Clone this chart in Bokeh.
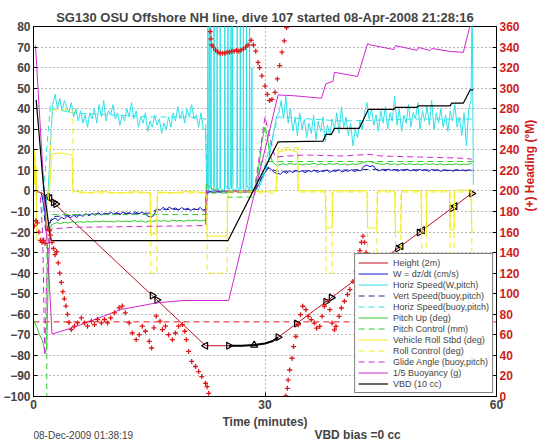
import math
from bokeh.plotting import figure
from bokeh.layouts import column
from bokeh.models import Range1d, LinearAxis, FixedTicker, Label, Legend, LegendItem, Grid
from bokeh.embed import file_html
from bokeh.resources import INLINE

# ---------------- texts / ticks ----------------
title_text = "SG130 OSU Offshore NH line, dive 107 started 08-Apr-2008 21:28:16"
xlabel_text = "Time (minutes)"
right_label_text = "(+) Heading (\u00b0M)"
date_text = "08-Dec-2009 01:38:19"
vbd_bias_text = "VBD bias =0 cc"
x_ticks = [0, 30, 60]
left_ticks = [-100, -90, -80, -70, -60, -50, -40, -30, -20, -10, 0, 10, 20, 30, 40, 50, 60, 70, 80]
right_ticks = [0, 20, 40, 60, 80, 100, 120, 140, 160, 180, 200, 220, 240, 260, 280, 300, 320, 340, 360]

# ---------------- data (time in minutes) ----------------
# Height (2 m)
height_t = [0.0, 1.0, 2.3, 22.3, 25.3, 27.0, 28.6, 30.0, 31.0, 31.7, 57.0]
height_v = [0.0, -0.8, -4.7, -75.3, -75.3, -75.3, -75.0, -74.2, -73.0, -71.2, -0.6]
height_bold_t = [25.3, 27.0, 28.6, 30.0, 31.0, 31.7]
height_bold_v = [-75.3, -75.3, -75.0, -74.2, -73.0, -71.2]
tri_right_t = [2.6, 2.9, 15.4, 16.0, 25.3, 31.7, 34.1, 37.9, 38.6, 47.2, 50.0, 54.2, 56.8]
tri_right_v = [-5.5, -6.4, -50.9, -53.1, -75.3, -71.2, -64.5, -53.9, -51.9, -28.0, -20.2, -8.5, -1.2]
tri_left_t = [1.8, 2.1, 22.3, 47.6, 50.4, 54.6]
tri_left_v = [-2.8, -3.5, -75.3, -26.9, -19.1, -7.4]
tri_up_t = [28.6]
tri_up_v = [-75.0]

# W = dz/dt (cm/s)
w_start_t = [1.0, 1.4, 1.7, 2.0]
w_start_v = [-1.0, -8.0, -19.0, -16.0]
w_desc = [-14.0, -13.2, -14.4, -12.8, -13.6, -12.2, -13.0, -11.8, -12.9, -11.5,
          -12.4, -11.0, -12.1, -10.9, -11.8, -10.6, -11.7, -10.8, -11.5, -10.3,
          -11.3, -10.5, -11.6, -10.2, -11.0, -10.6, -11.4, -10.1, -11.2, -10.4,
          -11.0, -12.2, -12.8, -11.9, -8.6, -9.4, -8.0, -9.1, -7.9, -8.8,
          -8.3, -9.3, -8.1, -9.0, -8.4, -9.5, -8.6, -9.2, -8.0, -9.6]
w_apo = [-0.6, -0.2, -0.8, -0.3, -0.5, -0.1, -0.7, -0.3, -0.6, -0.2, -0.5, -0.4, -0.6, -0.2, -0.5, -0.3]
w_rise_t = [29.2, 29.6, 30.0, 30.4, 30.8, 31.2, 31.6]
w_rise_v = [3.0, 6.8, 9.0, 11.6, 10.5, 9.0, 8.5]
w_climb = [8.2, 9.4, 8.6, 9.8, 8.9, 10.1, 9.2, 9.9, 8.8, 10.0,
           9.3, 10.2, 9.0, 9.7, 9.4, 10.3, 9.1, 9.8, 9.5, 10.4,
           9.2, 9.9, 9.6, 10.3, 9.4, 10.0, 9.8, 12.0, 12.6, 11.8, 12.3,
           10.4, 9.8, 10.5, 9.7, 10.6, 10.0, 10.4, 9.6, 10.3,
           9.9, 10.6, 9.8, 10.2, 9.7, 10.5, 10.0, 10.3, 9.6, 10.4,
           9.9, 10.2, 9.5, 10.3, 9.8, 10.1, 9.6, 10.4, 9.9, 10.2,
           9.7, 10.3, 10.0]

# Horiz Speed (W, pitch)
hs_start_t = [1.5, 1.9, 2.3, 2.5]
hs_start_v = [-8.0, 0.0, 30.0, 42.0]
hs_desc = [47, 40, 45, 39, 44, 41, 38, 43, 36, 40,
           34, 39, 33, 37, 31, 38, 35, 40, 33, 42,
           36, 44, 34, 39, 37, 42, 35, 38, 32, 37,
           34, 40, 36, 43, 35, 39, 31, 36, 33, 38,
           29, 34, 31, 37, 32, 35, 28, 33, 30, 36,
           31, 38, 34, 41, 35, 39, 33, 40, 36, 42,
           35, 37, 31, 38, 30]
hs_apo_t = [22.3, 22.45, 22.55, 22.6, 22.65, 22.75, 22.8, 22.85, 22.95, 23.0, 23.05,
            23.35, 23.4, 23.45, 23.75, 23.8, 23.85, 24.15, 24.2, 24.25, 24.75, 24.8, 24.85,
            25.15, 25.2, 25.25, 25.55, 25.6, 25.65, 25.75, 25.8, 25.85, 26.35, 26.4, 26.45,
            26.75, 26.8, 26.85, 27.15, 27.2, 27.25, 27.55, 27.6, 27.65, 27.95, 28.0, 28.05,
            28.25, 28.3, 28.35, 28.6,
            28.8, 29.2, 29.6, 30.0, 30.4, 30.8, 31.2, 31.5]
hs_apo_v = [30, 1, 2, 95, 0, 1, 95, 24, 2, 95, 1,
            0, 95, 2, 1, 95, 0, 2, 95, 1, 0, 95, 3,
            1, 95, 0, 2, 95, 1, 10, 95, 0, 1, 95, 2,
            0, 95, 1, 2, 95, 0, 1, 95, 3, 0, 95, 2,
            1, 60, 0, 0.5,
            0.5, 1, 5, 9, 14, 22, 30, 36]
hs_climb = [38, 44, 35, 46, 33, 40, 29, 36, 27, 38,
            30, 35, 26, 33, 28, 37, 25, 34, 29, 36,
            24, 32, 27, 35, 30, 38, 28, 41, 31, 36,
            27, 33, 22, 30, 26, 34, 30, 38, 43, 35,
            40, 32, 37, 29, 39, 33, 41, 30, 38, 34,
            46, 32, 40, 29, 37, 33, 42, 31, 38, 35,
            43, 30, 39, 34, 41, 32, 44, 30, 38, 33,
            40, 31, 37, 29, 39, 34, 42, 31, 36, 27,
            38, 22, 40, 44]
hs_end_t = [56.85, 57.0]
hs_end_v = [95, 3]

# Vert Speed (buoy, pitch)
vsb_t = [1.2, 1.6, 2.0, 2.4, 8.0, 15.0, 16.0, 22.3, 22.4, 28.6, 29.5, 30.4, 31.7, 44.0, 57.0]
vsb_v = [-2.0, -21.0, -17.0, -12.5, -11.2, -10.8, -9.0, -9.0, -0.5, -0.5, 6.0, 11.0, 9.5, 10.5, 10.0]

# Horiz Speed (buoy, pitch)
hsb_t = [1.2, 1.7, 2.2, 2.6, 5.0, 10.0, 15.0, 20.0, 22.3, 22.5, 28.5, 29.5, 30.5, 31.7, 40.0, 50.0, 56.8]
hsb_v = [-10.0, 20.0, 42.0, 40.0, 38.0, 37.0, 36.0, 36.0, 35.0, 0.0, 0.0, 5.0, 20.0, 36.0, 34.0, 35.0, 35.0]

# Pitch Up (deg)
pitch_start_t = [0.0, 0.4, 0.8, 1.2, 1.5, 1.7, 1.9, 2.1, 2.3]
pitch_start_v = [-63.0, -66.0, -70.0, -73.0, -79.0, -77.0, -45.0, -22.0, -16.5]
pitch_desc = [-16.2, -15.4, -15.9, -15.2, -15.6, -15.0, -15.4, -14.9, -15.3, -14.8,
              -15.2, -14.7, -15.1, -14.6, -15.0, -14.8, -15.1, -14.5, -14.9, -14.6,
              -15.0, -14.4, -14.9, -14.5, -15.2, -14.6, -14.8, -14.3, -14.7, -14.4,
              -14.9, -14.2, -14.6, -14.3, -14.8, -14.2, -14.5, -14.1, -14.6, -14.3]
pitch_mid_t = [22.3, 22.4, 23.0, 24.0, 25.0, 26.0, 27.0, 28.0, 28.7, 29.2, 29.6, 30.0, 30.3, 30.6, 31.0, 31.5]
pitch_mid_v = [-14.5, 3.5, 1.2, 0.3, -0.2, 0.2, -0.3, 0.1, 1.0, 12.0, 24.0, 31.0, 27.0, 18.0, 14.0, 12.5]
pitch_climb = [12.6, 13.2, 12.8, 13.4, 12.9, 13.3, 12.7, 13.1, 12.9, 13.5,
               12.8, 13.2, 12.7, 13.3, 12.9, 13.4, 12.8, 13.2, 12.6, 13.1,
               12.9, 13.3, 13.9, 14.4, 14.1, 13.6, 13.2, 12.9, 13.4, 12.8,
               13.2, 12.7, 13.3, 12.9, 13.2, 12.8, 13.1, 12.7, 13.3, 12.9,
               13.2, 12.8, 13.1, 12.7, 13.0, 12.8, 13.2, 12.7, 13.1, 12.9, 13.4]

# Pitch Control (mm)
pc_t = [1.7, 1.75, 22.5, 22.5, 25.2, 25.2, 28.6, 29.5, 57.0]
pc_v = [-150.0, -11.5, -11.5, -1.0, -1.0, -3.0, -3.0, 14.3, 14.3]

# Vehicle Roll Stbd (deg)
roll_t = [0.0, 0.1, 0.15, 0.2, 0.3, 0.35, 0.45, 1.6, 1.8, 2.1, 2.4, 3.5, 5.0, 5.1, 7.0, 9.0, 11.0, 13.0,
          15.1, 15.2, 16.0, 16.1, 18.0, 20.0, 22.4, 22.5, 25.1, 25.2, 28.0, 31.4, 31.7, 33.0, 34.2, 34.3,
          36.0, 37.8, 37.9, 38.7, 38.8, 41.0, 43.2, 43.3, 44.5, 44.6, 46.8, 46.9, 47.6, 47.7, 50.2, 50.3,
          50.9, 51.0, 53.9, 54.0, 54.5, 54.6, 56.7, 56.8, 57.0]
roll_v = [15, 20, 3, 17, -2, 12, -24, -24, -8, 2, 18, 18.5, 17.5, 0, -0.8, -0.3, -1.0, -0.4,
          -0.8, -21, -21, -0.5, -0.9, -0.3, -0.8, -22, -22, 0, -0.3, 0, 19, 20, 19, 0.3,
          0, 0.3, -18, -18, 0.2, 0, 0.2, -18, -18, 0.2, 0, -20, -20, 0.3, 0, -20,
          -20, 0.2, 0, -19, -19, 0.3, 0.5, -20, -20]

# Roll Control (deg)
rc_t = [2.0, 2.4, 5.1, 5.15, 15.2, 15.2, 16.0, 16.0, 22.5, 22.5, 25.1, 25.1, 31.5, 31.7, 34.3, 34.3,
        37.9, 37.9, 38.7, 38.7, 43.3, 43.3, 44.5, 44.5, 46.9, 46.9, 47.6, 47.6, 50.3, 50.3, 50.9, 50.9,
        54.0, 54.0, 54.5, 54.5, 56.8, 56.8, 57.0]
rc_v = [0, 39.4, 39.4, -1, -1, -40, -40, -1, -1, -40, -40, -1, -1, 21, 21, -0.5,
        -0.5, -40, -40, -0.5, -0.5, -40, -40, -0.5, -0.5, -40, -40, -0.5, -0.5, -40, -40, -0.5,
        -0.5, -40, -40, -0.5, -0.5, -40, -40]

# Glide Angle (buoy, pitch)
glide_t = [0.9, 1.2, 1.45, 1.7, 2.0, 2.4, 5.0, 10.0, 15.0, 20.0, 22.3, 22.4, 28.6, 29.2, 30.0, 30.5, 31.3,
           35.0, 40.0, 43.5, 45.0, 50.0, 55.0, 56.8]
glide_v = [-3, -22, -80, -45, -22, -18.5, -17.7, -17.5, -17.2, -17.0, -16.8, 0, 0, 15, 36, 28, 16.5,
           17.5, 17.0, 17.8, 17.0, 16.5, 16.0, 15.5]

# 1/5 Buoyancy (g)
buoy_t = [0.26, 1.9, 2.4, 5.3, 11.3, 16.0, 19.5, 25.3, 31.7, 33.8, 37.3, 37.9, 38.8, 39.0, 42.0, 43.3,
          43.7, 46.7, 46.9, 49.7, 49.9, 51.4, 51.6, 54.0, 55.7, 56.6]
buoy_v = [70.7, -34.0, -69.6, -66.3, -57.7, -54.4, -53.3, -53.3, 46.7, 46.3, 45.1, 52.1, 53.3, 57.7, 55.7, 71.7,
          71.0, 68.8, 70.7, 68.4, 69.8, 68.3, 69.3, 67.9, 67.4, 81.0]

# VBD (10 cc)
vbd_t = [0.35, 1.3, 2.1, 2.3, 25.2, 31.7, 37.5, 37.9, 38.6, 39.0, 42.2, 43.4, 46.7, 46.9, 49.7, 49.9,
         54.0, 54.2, 55.7, 56.6, 57.0]
vbd_v = [44.3, 2.0, -20.0, -24.2, -24.2, 23.9, 24.2, 27.5, 27.5, 30.4, 30.4, 39.7, 39.7, 40.7, 40.7, 41.4,
         41.4, 42.7, 42.7, 49.2, 49.2]

# Heading (deg M, right axis)
hdg_t = [0.1, 0.3, 0.5, 0.7, 0.9, 1.1, 1.3, 1.5, 2.0, 2.2, 2.4, 2.6, 2.8, 3.0, 3.2, 3.4, 3.6, 3.8, 4.0, 4.2,
         4.4, 4.6, 4.9, 5.3, 5.7, 6.2, 6.6, 7.0, 7.5, 7.9, 8.3, 8.8, 9.2, 9.6, 10.0, 10.5, 11.1, 11.5, 11.9,
         12.4, 12.8, 13.3, 13.7, 14.1, 14.5, 15.0, 15.3, 15.6, 15.9, 16.4, 16.7, 17.1, 17.5, 18.0, 18.4,
         18.8, 19.3, 19.6, 19.8, 20.1, 20.5, 21.0, 21.4, 21.8, 22.3, 22.5, 22.7,
         22.9, 23.0, 23.1, 23.3, 23.6, 23.9, 24.2, 24.5, 24.8, 25.1, 25.4, 25.7, 26.0, 26.3, 26.6, 26.9,
         27.2, 27.5, 27.8, 28.2, 28.5, 28.8, 29.1, 29.3, 29.6, 30.0, 30.3, 30.6, 30.9, 31.3, 31.6, 31.9,
         32.2, 32.5, 32.8,
         32.7, 32.9, 33.0, 33.2, 33.5, 33.7, 34.0, 34.3, 34.6, 34.9, 35.3, 35.6, 36.0, 36.4, 36.7, 37.1,
         37.4, 37.7, 38.1, 38.4, 38.7, 39.0, 39.2, 39.6, 39.9, 40.3, 40.7, 41.0, 41.4, 41.8, 42.1, 42.3,
         42.5, 42.7, 42.9, 43.1, 43.3]
hdg_v = [166, 171, 169, 160, 152, 150, 152, 149, 162, 157, 150, 144, 138, 141, 130, 120, 111, 102, 95, 88,
         80, 72, 65.1, 68.4, 71.6, 76.5, 71.6, 68.4, 73.3, 70, 74.9, 71.6, 74.9, 71.6, 76.5, 81.4, 86.3, 88,
         81.4, 71.6, 61.8, 55.3, 60.2, 68.4, 63.5, 53.7, 47.2, 66.8, 78.2, 73.3, 65.1, 68.4, 60.2, 55.3, 61.8,
         68.4, 70, 63.5, 55.3, 43.9, 34.1, 29.2, 24.3, 19.4, 12.9, 9.6, 3.1,
         355, 348, 342, 340, 337, 335, 334, 334, 334, 335, 335, 336, 336, 337, 336, 337,
         338, 340, 342, 346.6, 342, 336, 325, 320, 312, 302, 294, 288, 289, 296, 309, 322,
         335, 346, 359,
         0.5, 8, 16, 25.8, 37.2, 48.6, 58.4, 69.8, 79.6, 87.8, 84.5, 78, 74.7, 71.4, 66.5, 68.2,
         78, 87.8, 92.7, 84.5, 71.4, 64.9, 68.2, 78, 86.1, 92.7, 99.2, 104, 112, 122, 133, 142,
         150, 156, 150, 140, 128]
hdg_target = 72.6


def sampled(t0, dt, vals):
    return [t0 + i * dt for i in range(len(vals))]


# ---------------- main figure ----------------
FONT = "Liberation Sans"
RED = "#e01818"
AXRED = "#d01c1c"
xr = Range1d(0, 60)
p = figure(width=546, height=413, x_range=xr, y_range=Range1d(-100, 80),
           output_backend="svg", toolbar_location=None, title=title_text,
           x_axis_type=None, y_axis_type=None,
           min_border_left=32, min_border_right=48, min_border_top=26, min_border_bottom=17,
           background_fill_color="white", border_fill_color="white")
p.title.align = "center"
p.title.text_font = FONT
p.title.text_font_size = "13px"
p.title.text_font_style = "bold"
p.title.standoff = 4
p.extra_y_ranges = {"hdg": Range1d(0, 360)}
p.outline_line_color = "black"
p.outline_line_width = 1

xaxis = LinearAxis(ticker=FixedTicker(ticks=x_ticks))
yaxis = LinearAxis(ticker=FixedTicker(ticks=left_ticks))
raxis = LinearAxis(y_range_name="hdg", ticker=FixedTicker(ticks=right_ticks),
                   axis_label=right_label_text)
for ax in (xaxis, yaxis, raxis):
    ax.major_tick_in = 4
    ax.major_tick_out = 0
    ax.minor_tick_line_color = None
    ax.axis_line_color = "black"
    ax.major_tick_line_color = "black"
    ax.major_label_text_font = FONT
    ax.major_label_text_font_style = "bold"
    ax.major_label_text_font_size = "12px"
    ax.major_label_standoff = 3
    ax.axis_label_text_font = FONT
    ax.axis_label_text_font_style = "bold"
    ax.axis_label_text_font_size = "12px"
raxis.major_label_text_color = AXRED
raxis.axis_label_text_color = AXRED
raxis.axis_label_orientation = math.pi / 2
raxis.axis_label_standoff = 7
p.add_layout(xaxis, "below")
p.add_layout(yaxis, "left")
p.add_layout(raxis, "right")

for dim, tk in ((0, xaxis.ticker), (1, yaxis.ticker)):
    p.add_layout(Grid(dimension=dim, ticker=tk, grid_line_color="#505050", grid_line_dash="1 3",
                      grid_line_width=1, grid_line_alpha=0.8))

# heading target (right axis)
p.line([0, 60], [hdg_target, hdg_target], y_range_name="hdg", line_color=RED, line_dash="6 4", line_width=1)

# series
r_height = p.line(height_t, height_v, line_color="#c01020", line_width=1)
p.line(height_bold_t, height_bold_v, line_color="black", line_width=2)
p.scatter(tri_right_t, tri_right_v, marker="triangle", angle=-math.pi / 2, size=7,
          line_color="black", fill_color=None, line_width=1.2)
p.scatter(tri_left_t, tri_left_v, marker="triangle", angle=math.pi / 2, size=7,
          line_color="black", fill_color=None, line_width=1.2)
p.scatter(tri_up_t, tri_up_v, marker="triangle", size=7, line_color="black", fill_color=None, line_width=1.2)

w_t = w_start_t + sampled(2.4, 0.4, w_desc) + [22.3] + sampled(22.6, 0.4, w_apo) + w_rise_t + sampled(32.0, 0.4, w_climb)
w_v = w_start_v + w_desc + [-9.8] + w_apo + w_rise_v + w_climb
r_w = p.line(w_t, w_v, line_color="#1414d2", line_width=1)

hs_t = hs_start_t + sampled(2.8, 0.3, hs_desc) + hs_apo_t + sampled(31.8, 0.3, hs_climb) + hs_end_t
hs_v = hs_start_v + hs_desc + hs_apo_v + hs_climb + hs_end_v
r_hs = p.line(hs_t, hs_v, line_color="#2ee0e8", line_width=1)

r_vsb = p.line(vsb_t, vsb_v, line_color="#282896", line_width=1, line_dash="6 4")
r_hsb = p.line(hsb_t, hsb_v, line_color="#2ee0e8", line_width=1, line_dash="6 4")

pitch_t = pitch_start_t + sampled(2.5, 0.5, pitch_desc) + pitch_mid_t + sampled(31.8, 0.5, pitch_climb)
pitch_v = pitch_start_v + pitch_desc + pitch_mid_v + pitch_climb
r_pitch = p.line(pitch_t, pitch_v, line_color="#2ecc2e", line_width=1)
r_pc = p.line(pc_t, pc_v, line_color="#2ecc2e", line_width=1, line_dash="6 4")

r_roll = p.line(roll_t, roll_v, line_color="#f2ec1e", line_width=1)
r_rc = p.line(rc_t, rc_v, line_color="#f2ec1e", line_width=1, line_dash="6 4")

r_glide = p.line(glide_t, glide_v, line_color="#d028d0", line_width=1, line_dash="6 4")
r_buoy = p.line(buoy_t, buoy_v, line_color="#d028d0", line_width=1)
r_vbd = p.line(vbd_t, vbd_v, line_color="black", line_width=1.2)

p.scatter(hdg_t, hdg_v, y_range_name="hdg", marker="cross", size=5, line_color=RED, line_width=1.3)

legend = Legend(items=[
    LegendItem(label="Height (2m)", renderers=[r_height]),
    LegendItem(label="W = dz/dt (cm/s)", renderers=[r_w]),
    LegendItem(label="Horiz Speed(W,pitch)", renderers=[r_hs]),
    LegendItem(label="Vert Speed(buoy,pitch)", renderers=[r_vsb]),
    LegendItem(label="Horiz Speed(buoy,pitch)", renderers=[r_hsb]),
    LegendItem(label="Pitch Up (deg)", renderers=[r_pitch]),
    LegendItem(label="Pitch Control (mm)", renderers=[r_pc]),
    LegendItem(label="Vehicle Roll Stbd (deg)", renderers=[r_roll]),
    LegendItem(label="Roll Control (deg)", renderers=[r_rc]),
    LegendItem(label="Glide Angle (buoy,pitch)", renderers=[r_glide]),
    LegendItem(label="1/5 Buoyancy (g)", renderers=[r_buoy]),
    LegendItem(label="VBD (10 cc)", renderers=[r_vbd]),
], location="bottom_right", label_text_font=FONT, label_text_font_size="9px",
    glyph_width=30, glyph_height=11, label_height=11, spacing=0, padding=3, margin=3,
    label_standoff=5, border_line_color="black", border_line_width=1, background_fill_alpha=1.0)
p.add_layout(legend)

# ---------------- bottom strip: x-axis title and footer texts ----------------
foot = figure(width=546, height=29, x_range=xr, y_range=Range1d(0, 29),
              output_backend="svg", toolbar_location=None, title=None,
              x_axis_type=None, y_axis_type=None, min_border=0,
              min_border_left=32, min_border_right=48,
              outline_line_color=None, background_fill_color="white", border_fill_color="white")
foot.add_layout(Label(x=30, y=20.5, text=xlabel_text, text_align="center", text_baseline="middle",
                      text_font=FONT, text_font_style="bold", text_font_size="12px"))
foot.add_layout(Label(x=0, y=7, text=date_text, text_align="left", text_baseline="middle",
                      text_font=FONT, text_font_size="10px"))
foot.add_layout(Label(x=36.4, y=7.5, text=vbd_bias_text, text_align="left", text_baseline="middle",
                      text_font=FONT, text_font_style="bold", text_font_size="12px"))

layout = column(p, foot, spacing=0)
open("out.html", "w").write(file_html(layout, INLINE))
